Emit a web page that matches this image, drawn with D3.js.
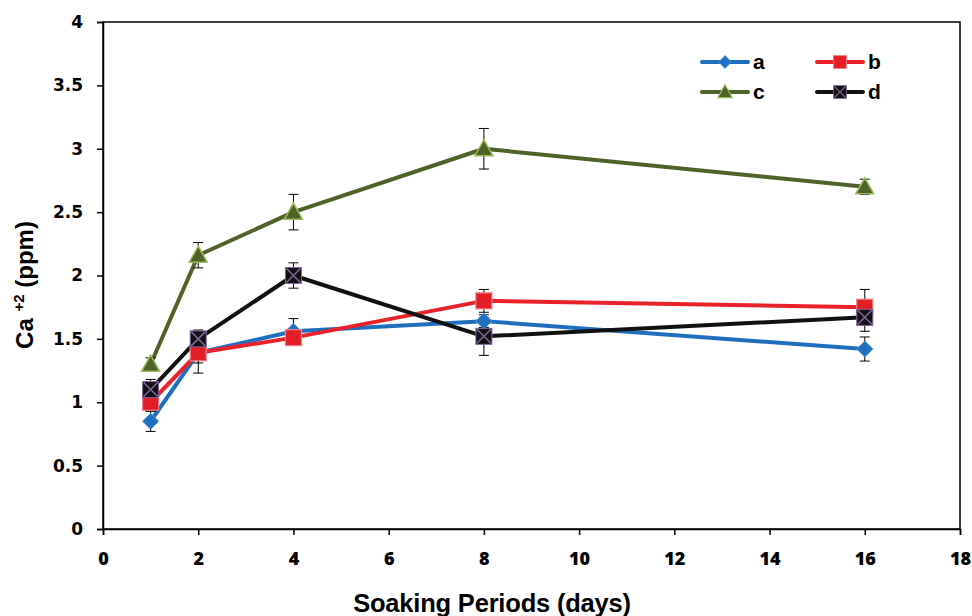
<!DOCTYPE html>
<html><head><meta charset="utf-8">
<script src="https://cdn.jsdelivr.net/npm/d3@7"></script>
<style>body{margin:0;background:#fff}svg{display:block}</style>
</head><body>
<svg id="c" width="972" height="616"></svg>
<script>
const days = [1, 2, 4, 8, 16];
const seriesNames = ["a", "b", "c", "d"];
const aVals = [0.85, 1.39, 1.56, 1.64, 1.42];
const aErr  = [0.08, 0.16, 0.10, 0.05, 0.095];
const bVals = [1.00, 1.39, 1.51, 1.80, 1.75];
const bErr  = [0.07, 0.08, 0.06, 0.09, 0.14];
const cVals = [1.30, 2.16, 2.50, 3.00, 2.70];
const cErr  = [0.05, 0.10, 0.14, 0.16, 0.06];
const dVals = [1.10, 1.50, 2.00, 1.52, 1.67];
const dErr  = [0.08, 0.07, 0.10, 0.15, 0.11];
const xTicks = [0, 2, 4, 6, 8, 10, 12, 14, 16, 18];
const yTicks = [0, 0.5, 1, 1.5, 2, 2.5, 3, 3.5, 4];

const svg = d3.select("#c");
const L = 103, R = 960, T = 22, B = 529;
const x = d3.scaleLinear().domain([0, 18]).range([L, R]);
const y = d3.scaleLinear().domain([0, 4]).range([B, T]);

const styles = {
  a: {line: "#1f6fc0", fill: "#1f6fc0", stroke: "#4a90d6", shape: "diamond"},
  b: {line: "#e8222a", fill: "#e41e26", stroke: "#e98088", shape: "square"},
  c: {line: "#4f6228", fill: "#4f6228", stroke: "#9bbb59", shape: "triangle"},
  d: {line: "#111111", fill: "#111111", stroke: "#8066a0", shape: "xsquare"}
};
const data = {
  a: days.map((d, i) => ({x: d, y: aVals[i], e: aErr[i]})),
  b: days.map((d, i) => ({x: d, y: bVals[i], e: bErr[i]})),
  c: days.map((d, i) => ({x: d, y: cVals[i], e: cErr[i]})),
  d: days.map((d, i) => ({x: d, y: dVals[i], e: dErr[i]}))
};

svg.append("rect").attr("x", L).attr("y", T).attr("width", R - L).attr("height", B - T)
  .attr("fill", "none").attr("stroke", "#000").attr("stroke-width", 1.5);

const yAxis = svg.append("g").attr("transform", `translate(${L},0)`)
  .call(d3.axisLeft(y).tickValues(yTicks).tickSize(6).tickPadding(14).tickFormat(d3.format("")));
yAxis.selectAll("text").style("font-family", "'DejaVu Sans', Verdana, sans-serif")
  .style("font-weight", "bold").style("font-size", "17px").attr("fill", "#000");
const xAxis = svg.append("g").attr("transform", `translate(0,${B})`)
  .call(d3.axisBottom(x).tickValues(xTicks).tickSize(6).tickPadding(17));
xAxis.selectAll("text").style("font-family", "'Open Sans', sans-serif")
  .style("font-weight", "800").style("font-size", "18px").attr("fill", "#000");
svg.selectAll(".domain").attr("stroke", "#000").attr("stroke-width", 1.5);
svg.selectAll(".tick line").attr("stroke", "#000").attr("stroke-width", 1.5);

svg.append("text").attr("x", 492).attr("y", 612).attr("text-anchor", "middle")
  .style("font-family", "'Liberation Sans', Arial, sans-serif").style("letter-spacing", "-0.2px")
  .style("font-weight", "bold").style("font-size", "25.5px").text("Soaking Periods (days)");
const yt = svg.append("text").attr("transform", "translate(33,285) rotate(-90)").attr("text-anchor", "middle")
  .style("font-family", "'Liberation Sans', Arial, sans-serif").style("font-weight", "bold").style("font-size", "24px");
yt.append("tspan").text("Ca ");
yt.append("tspan").attr("dy", -9).style("font-size", "15px").text("+2");
yt.append("tspan").attr("dy", 9).text(" (ppm)");

function marker(g, shape, st) {
  if (shape === "diamond") {
    g.append("path").attr("d", "M0,-8L8,0L0,8L-8,0Z").attr("fill", st.fill).attr("stroke", st.stroke).attr("stroke-width", 1);
  } else if (shape === "square") {
    g.append("rect").attr("x", -8).attr("y", -8).attr("width", 16).attr("height", 16)
      .attr("fill", st.fill).attr("stroke", st.stroke).attr("stroke-width", 1.2);
  } else if (shape === "triangle") {
    g.append("path").attr("d", "M0,-9L9,7L-9,7Z").attr("fill", st.fill).attr("stroke", st.stroke).attr("stroke-width", 1.5);
  } else {
    g.append("rect").attr("x", -8).attr("y", -8).attr("width", 16).attr("height", 16)
      .attr("fill", st.fill).attr("stroke", st.stroke).attr("stroke-width", 1);
    g.append("path").attr("d", "M-7,-7L7,7M7,-7L-7,7").attr("stroke", st.stroke).attr("stroke-width", 1.5);
  }
}

const line = d3.line().x(d => x(d.x)).y(d => y(d.y));
const order = ["a", "b", "c", "d"];
order.forEach(k => {
  svg.append("path").datum(data[k]).attr("d", line).attr("fill", "none")
    .attr("stroke", styles[k].line).attr("stroke-width", 4).attr("stroke-linejoin", "round");
});
order.forEach(k => {
  const g = svg.append("g");
  data[k].forEach(d => {
    const cx = x(d.x);
    g.append("line").attr("x1", cx).attr("x2", cx).attr("y1", y(d.y - d.e)).attr("y2", y(d.y + d.e)).attr("stroke", "#000").attr("stroke-width", 1);
    [d.y - d.e, d.y + d.e].forEach(v => g.append("line").attr("x1", cx - 5).attr("x2", cx + 5).attr("y1", y(v)).attr("y2", y(v)).attr("stroke", "#000").attr("stroke-width", 1));
  });
});
order.forEach(k => {
  data[k].forEach(d => {
    const g = svg.append("g").attr("transform", `translate(${x(d.x)},${y(d.y)})`);
    marker(g, styles[k].shape, styles[k]);
  });
});

const legPos = {a: [702, 62], b: [817, 62], c: [702, 92], d: [817, 92]};
seriesNames.forEach(k => {
  const [lx, ly] = legPos[k];
  const st = styles[k];
  svg.append("line").attr("x1", lx).attr("x2", lx + 46).attr("y1", ly).attr("y2", ly)
    .attr("stroke", st.line).attr("stroke-width", 4).attr("stroke-linecap", "round");
  const g = svg.append("g").attr("transform", `translate(${lx + 23},${ly}) scale(0.8)`);
  marker(g, st.shape, st);
  svg.append("text").attr("x", lx + 51).attr("y", ly + 7)
    .style("font-family", "'Liberation Sans', Arial, sans-serif").style("font-weight", "bold").style("font-size", "21px").text(k);
});
</script>
</body></html>
